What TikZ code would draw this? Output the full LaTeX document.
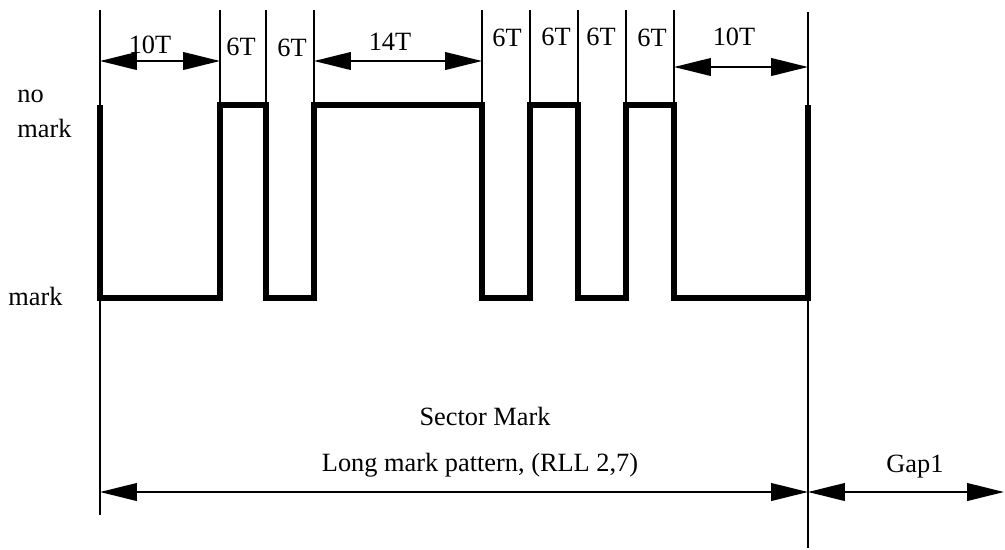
\documentclass[tikz,border=0pt]{standalone}
\usepackage{fontspec}
\setmainfont{Liberation Serif}
\usetikzlibrary{arrows.meta, positioning}

\begin{document}
\begin{tikzpicture}[
  x=0.02cm, y=-0.02cm,
  tick/.style={line width=1.1pt},
  wave/.style={line width=3.3pt, line join=miter},
  dim/.style={{Triangle[length=21pt, width=10pt]}-{Triangle[length=21pt, width=10pt]}, line width=1.2pt},
  lbl/.style={font=\fontsize{15}{18}\selectfont, inner sep=0pt}
]
\useasboundingbox (0,0) rectangle (1005,549);

% --- edges of the pattern ---
\coordinate (e0) at (100,10);
\coordinate (e1) at (220,10);
\coordinate (e2) at (266,10);
\coordinate (e3) at (314,10);
\coordinate (e4) at (482,10);
\coordinate (e5) at (530,10);
\coordinate (e6) at (578,10);
\coordinate (e7) at (626,10);
\coordinate (e8) at (674,10);
\coordinate (e9) at (808,12);
\coordinate (e0b) at (100,515);
\coordinate (e9b) at (808,548);

% --- tick lines ---
\draw[tick] (e0) -- (e0b);
\draw[tick] (e9) -- (e9b);
\draw[tick] (e1) -- (220,105);
\draw[tick] (e2) -- (266,105);
\draw[tick] (e3) -- (314,105);
\draw[tick] (e4) -- (482,105);
\draw[tick] (e5) -- (530,105);
\draw[tick] (e6) -- (578,105);
\draw[tick] (e7) -- (626,105);
\draw[tick] (e8) -- (674,105);

% --- waveform ---
\draw[wave] (100,105) -- (100,298) -| (220,105) -| (266,298) -| (314,105)
  -| (482,298) -| (530,105) -| (578,298) -| (626,105) -| (674,298) -| (808,105);

% --- levels ---
\node[lbl, anchor=west] (nomark) at (17,96) {no};
\node[lbl, below=9pt of nomark.south west, anchor=north west] (nomark2) {mark};
\node[lbl, anchor=west] (mark) at (8,296) {mark};

% --- run lengths ---
\coordinate (a0) at (100,61);
\coordinate (a1) at (220,61);
\coordinate (b0) at (314,61);
\coordinate (b1) at (482,61);
\coordinate (c0) at (674,67);
\coordinate (c1) at (808,67);
\draw[dim] (a0) -- (a1);
\draw[dim] (b0) -- (b1);
\draw[dim] (c0) -- (c1);
\node[lbl] (r1) at (150,45) {10T};
\node[lbl] (r2) at (241,47) {6T};
\node[lbl] (r3) at (292,48) {6T};
\node[lbl] (r4) at (390,42) {14T};
\node[lbl] (r5) at (507,38) {6T};
\node[lbl] (r6) at (556,37) {6T};
\node[lbl] (r7) at (601,37) {6T};
\node[lbl] (r8) at (652,38) {6T};
\node[lbl] (r9) at (734,37) {10T};

% --- sector mark and gap ---
\coordinate (s0) at (100,492);
\coordinate (s1) at (808,492);
\coordinate (g1) at (1004,492);
\draw[dim] (s0) -- (s1);
\draw[dim] (s1) -- (g1);
\node[lbl] (sector) at (485,416) {Sector Mark};
\node[lbl] (pattern) at (480,465) {Long mark pattern, (RLL 2,7)};
\node[lbl] (gap) at (915,467) {Gap1};

\end{tikzpicture}
\end{document}
